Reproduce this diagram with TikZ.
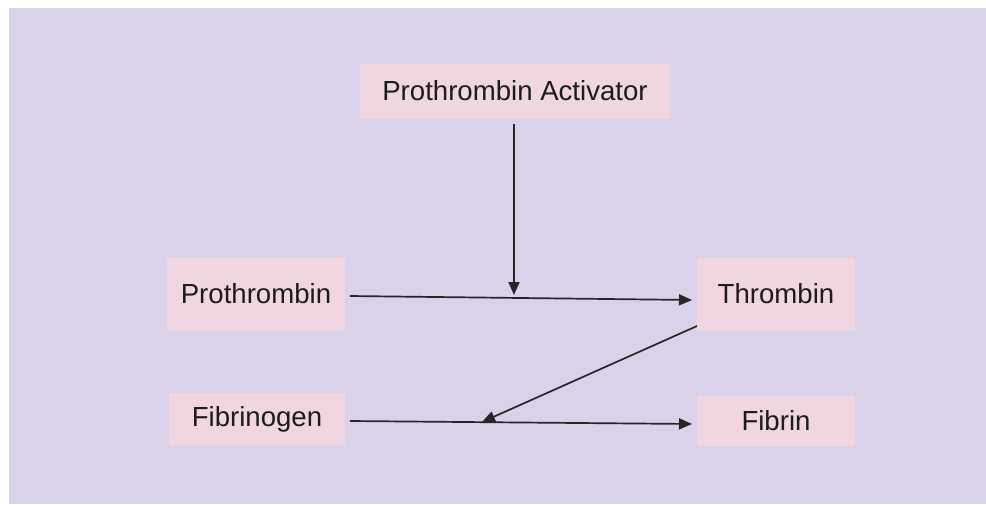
\documentclass[tikz,border=0pt]{standalone}
\usepackage{fontspec}
\setmainfont{Liberation Sans}
\usetikzlibrary{arrows.meta}
\definecolor{bgl}{HTML}{D9D2E9}
\definecolor{boxp}{HTML}{EFD6E0}
\definecolor{txt}{HTML}{1C1C1C}
\begin{document}
\begin{tikzpicture}[x=1pt,y=-1pt,
  lbl/.style={fill=boxp, text=txt, inner sep=0pt, font=\fontsize{27.6}{32}\selectfont},
  arr/.style={draw=black!85, line width=1.7pt, -{Triangle[length=13pt,width=11pt]}}]
\useasboundingbox (0,0) rectangle (986,504);
\fill[white] (0,0) rectangle (986,504);
\fill[bgl] (9,8) rectangle (986,504);
\node[lbl, minimum width=310pt, minimum height=55pt] (act) at (515,91) {Prothrombin Activator};
\node[lbl, minimum width=178pt, minimum height=73pt] (pro) at (256,294) {Prothrombin};
\node[lbl, minimum width=158pt, minimum height=73pt] (thr) at (776,294) {Thrombin};
\node[lbl, minimum width=176pt, minimum height=52pt] (fbg) at (257,419) {Fibrinogen};
\node[lbl, minimum width=158pt, minimum height=50pt] (fbn) at (776,421) {Fibrin};
\coordinate (hit1) at (514,295);
\coordinate (hit2) at (482,422);
\draw[arr] (514,124) -- (hit1);
\draw[arr] (350,296) -- (692,300);
\draw[arr] (697,326) -- (hit2);
\draw[arr] (350,421) -- (692,424);
\end{tikzpicture}
\end{document}
